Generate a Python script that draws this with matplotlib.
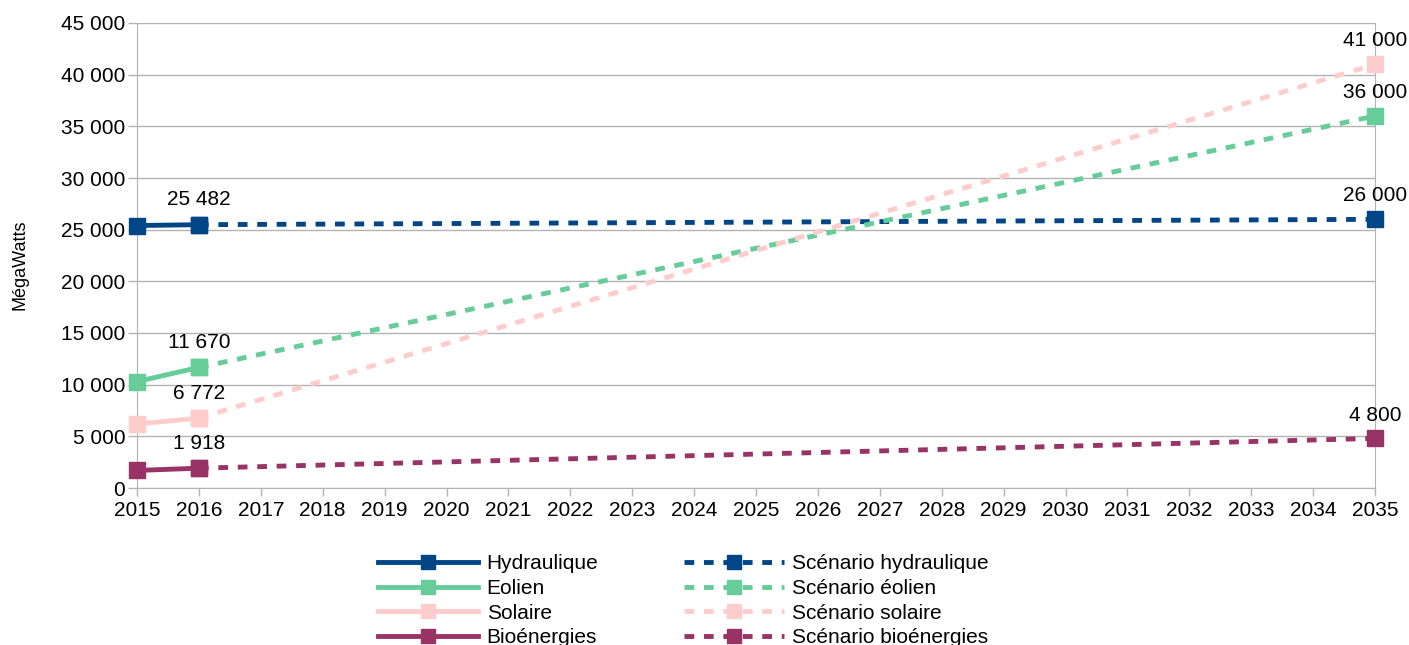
import matplotlib.pyplot as plt
from matplotlib.ticker import FuncFormatter

plt.rcParams['font.family'] = ['Liberation Sans', 'DejaVu Sans']

years = list(range(2015, 2036))

# valeurs observees 2015-2016
obs_years = [2015, 2016]
hydro = [25400, 25482]
eolien = [10300, 11670]
solaire = [6191, 6772]
bio = [1700, 1918]

# scenarios 2016 -> 2035
scen_years = [2016, 2035]
scen_hydro = [25482, 26000]
scen_eolien = [11670, 36000]
scen_solaire = [6772, 41000]
scen_bio = [1918, 4800]

names = ['Hydraulique', 'Eolien', 'Solaire', 'Bioénergies']
scen_names = ['Scénario hydraulique', 'Scénario éolien', 'Scénario solaire', 'Scénario bioénergies']
colors = ['#004586', '#66cc99', '#ffcccc', '#993366']

fig = plt.figure(figsize=(14.09, 6.45), dpi=100)
ax = fig.add_axes([137/1409, 1-488/645, (1375-137)/1409, (488-23)/645])

fmt = lambda v, p: '{:,}'.format(int(v)).replace(',', ' ')

handles = []
scen_handles = []
for obs, scen, c, n, sn in zip([hydro, eolien, solaire, bio],
                               [scen_hydro, scen_eolien, scen_solaire, scen_bio],
                               colors, names, scen_names):
    h2, = ax.plot(scen_years, scen, color=c, lw=3.5, ls=(0, (2.0, 2.0)), marker='s', ms=11.5,
                  label=sn, zorder=3, clip_on=False)
    h1, = ax.plot(obs_years, obs, color=c, lw=3.5, marker='s', ms=11.5, label=n, zorder=4, clip_on=False)
    handles.append(h1)
    scen_handles.append(h2)
    ax.annotate(fmt(obs[1], None), (obs_years[1], obs[1]), xytext=(0, 11), textcoords='offset points',
                ha='center', va='bottom', fontsize=15)
    ax.annotate(fmt(scen[1], None), (scen_years[1], scen[1]), xytext=(0, 10), textcoords='offset points',
                ha='center', va='bottom', fontsize=15)

ax.set_xlim(2015, 2035)
ax.set_ylim(0, 45000)
ax.set_xticks(years)
ax.set_yticks(range(0, 45001, 5000))
ax.yaxis.set_major_formatter(FuncFormatter(fmt))
ax.tick_params(labelsize=15, colors='#b3b3b3', labelcolor='black', length=6, width=1, pad=3)
ax.tick_params(axis='y', length=6.5, pad=2)
ax.grid(axis='y', color='#b3b3b3', lw=1)
ax.set_axisbelow(True)
for s in ['left', 'right', 'bottom']:
    ax.spines[s].set_color('#b3b3b3')
ax.spines['top'].set_visible(False)
ax.set_ylabel('MégaWatts', fontsize=13)
ax.yaxis.set_label_coords(-0.088, 0.48)

fig.legend(handles + scen_handles, names + scen_names, ncol=2, frameon=False, fontsize=15,
           loc='upper left', bbox_to_anchor=(368/1409, 1-544/645), handlelength=4.8,
           handletextpad=0.4, labelspacing=0.27, columnspacing=4.1, borderpad=0, markerscale=0.9)

fig.savefig('out.png', dpi=100)
